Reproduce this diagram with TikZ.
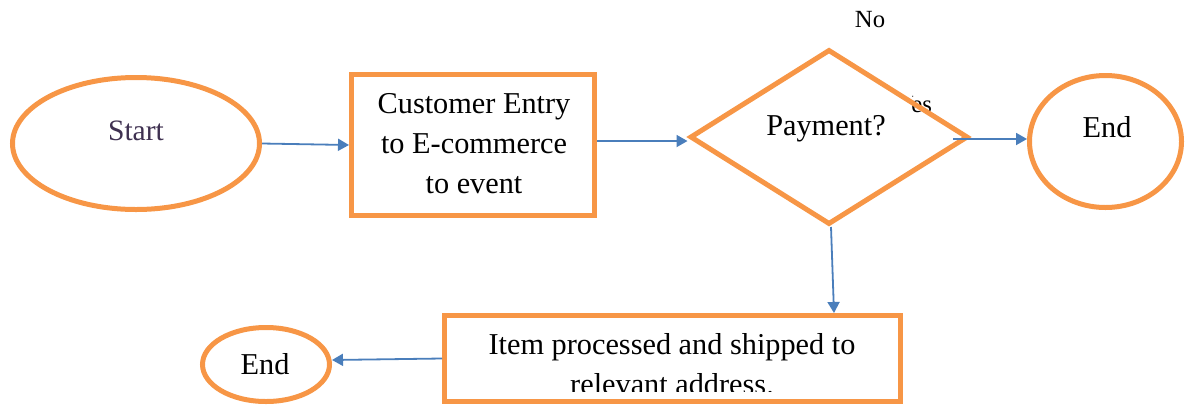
\documentclass[tikz,border=0pt]{standalone}
\usepackage{fontspec}
\setmainfont{Liberation Serif}
\usetikzlibrary{shapes.geometric,arrows.meta}
\definecolor{orng}{HTML}{F79646}
\definecolor{conn}{HTML}{4A7EBB}
\definecolor{starttxt}{HTML}{3F3151}
\begin{document}
\begin{tikzpicture}[x=1pt,y=-1pt,
  shapebox/.style={draw=orng,line width=5pt,fill=none,inner sep=0pt,outer sep=2.5pt},
  oval/.style={shapebox,ellipse},
  rectbox/.style={shapebox,rectangle},
  decision/.style={shapebox,diamond},
  txt/.style={anchor=base,inner sep=0pt,font=\fontsize{30.3}{36}\selectfont},
  smalltxt/.style={anchor=base,inner sep=0pt,font=\fontsize{24.7}{30}\selectfont},
  arr/.style={draw=conn,line width=1.8pt,-{Triangle[length=11pt,width=12pt]}}]
\useasboundingbox (0,0) rectangle (1185,405);
\clip (0,0) rectangle (1185,405);

% partially hidden "Yes" label
\begin{scope}
  \clip (912,85) rectangle (950,125);
  \node[smalltxt] (yesT) at (914,112) {Yes};
\end{scope}
\node[smalltxt] (noT) at (870,27) {No};

% shapes
\node[oval,minimum width=247pt,minimum height=132pt] (start) at (136,143.5) {};
\node[rectbox,minimum width=243pt,minimum height=141pt] (entry) at (473,145) {};
\node[decision,minimum width=278pt,minimum height=175pt] (pay) at (829,137) {};
\node[oval,minimum width=152pt,minimum height=132pt] (end1) at (1105.5,141.5) {};
\node[rectbox,minimum width=456pt,minimum height=86pt] (ship) at (672.5,358.5) {};
\node[oval,minimum width=127pt,minimum height=74pt] (end2) at (266,364.5) {};

% texts
\node[txt,text=starttxt,font=\fontsize{29.6}{36}\selectfont] (startT) at (136,140) {Start};
\node[txt] (entryA) at (474,113) {Customer Entry};
\node[txt] (entryB) at (474,153) {to E-commerce};
\node[txt] (entryC) at (474,193) {to event};
\node[txt] (payT) at (826,135) {Payment?};
\node[txt] (end1T) at (1107,137) {End};
\node[txt] (shipA) at (672,354) {Item processed and shipped to};
\begin{scope}
  \clip (444,300) rectangle (900,391);
  \node[txt] (shipB) at (672,394) {relevant address.};
\end{scope}
\node[txt] (end2T) at (265,374) {End};

% connectors
\coordinate (payout) at (953,139);
\draw[arr] (start.east) -- (entry.west);
\draw[arr] (entry.east |- 0,141) -- (pay.west |- 0,141);
\draw[arr] (payout) -- (end1.west |- 0,139);
\draw[arr] (pay.south -| 831,0) -- (ship.north -| 834,0);
\draw[arr] (ship.west) -- (end2.east |- 0,360);
\end{tikzpicture}
\end{document}
